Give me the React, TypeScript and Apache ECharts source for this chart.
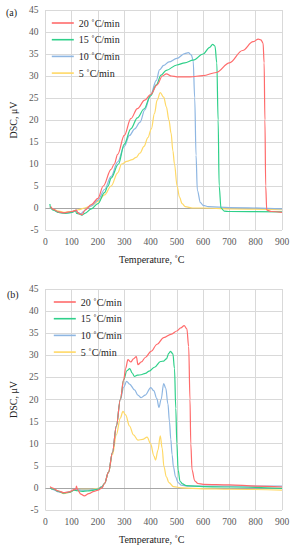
import React, { useEffect, useRef } from "react";
import * as echarts from "echarts";

const seriesNames = ["20 ˚C/min", "15 ˚C/min", "10 ˚C/min", "5 ˚C/min"];
const colors = ["#ff6b6b", "#2fd08a", "#8eb6e2", "#ffd966"];
const xTicks = { min: 0, max: 900, interval: 100 };
const yTicks = { min: -5, max: 45, interval: 5 };

// Chart (a)
const a20T = [20, 30, 50, 70, 100, 118, 122, 132, 140, 150, 175, 200, 220, 250, 262, 275, 300, 325, 350, 378, 400, 425, 445, 460, 480, 500, 550, 600, 650, 700, 750, 790, 810, 820, 828, 832, 835, 838, 842, 860, 900];
const a20V = [0.3, -0.3, -0.9, -1.1, -0.8, -0.5, -1.0, -1.4, -1.5, -0.5, 0.8, 2.2, 5, 8.8, 10, 12.2, 16.5, 20.3, 22.6, 24.5, 25.8, 28, 30, 30.5, 30, 29.8, 29.8, 30.1, 30.8, 33, 35.8, 37.8, 38.4, 38.2, 37.5, 33, 20, 5, -0.5, -0.8, -1.0];
const a15T = [17, 20, 30, 50, 75, 100, 115, 118, 130, 140, 150, 175, 200, 225, 238, 250, 278, 300, 325, 350, 375, 400, 422, 440, 460, 500, 530, 562, 600, 625, 636, 645, 652, 657, 661, 668, 680, 700, 900];
const a15V = [0.9, 0, -0.5, -1.0, -1.2, -1.0, -0.6, -1.2, -1.4, -1.6, -1.2, -0.2, 1.0, 3.5, 5, 6.8, 10, 14.5, 18, 20.5, 22.5, 25.5, 28, 30.2, 31.3, 32.5, 33, 33.6, 35, 36.5, 37.2, 36.8, 33, 20, 5, 0, -0.7, -0.8, -0.9];
const a10T = [17, 30, 50, 75, 100, 118, 122, 135, 145, 160, 175, 200, 225, 250, 275, 300, 320, 340, 360, 378, 400, 422, 434, 450, 470, 500, 530, 544, 555, 562, 568, 573, 578, 590, 600, 620, 700, 900];
const a10V = [0.3, -0.4, -1.0, -1.2, -1.0, -0.5, -1.0, -1.3, -0.8, 0, 0.5, 1.8, 4.2, 7.2, 10.5, 14, 16.5, 18, 19.5, 22.3, 25.7, 29, 31.4, 32.4, 33.2, 34, 35.1, 35.3, 34.8, 33.5, 25, 12, 4, 1.2, 0.6, 0.3, 0.1, -0.2];
const a5T = [17, 30, 50, 75, 100, 125, 150, 175, 200, 225, 250, 275, 290, 310, 330, 345, 360, 375, 390, 403, 415, 425, 437, 450, 460, 470, 478, 485, 491, 501, 510, 520, 532, 560, 600, 700, 900];
const a5V = [0.2, -0.3, -0.7, -1.0, -0.8, -0.4, 0, 0.5, 1.5, 3, 5, 8, 10, 10.6, 11, 11.5, 12.5, 14, 16, 18, 21.5, 24.5, 26.2, 25.2, 23, 20, 17, 13, 10, 5, 2.5, 1, 0.3, 0, 0, -0.2, -0.4];

// Chart (b)
const b20T = [18, 25, 50, 70, 90, 110, 116, 118, 122, 135, 148, 165, 185, 200, 215, 225, 240, 255, 270, 285, 298, 305, 314, 325, 335, 346, 352, 365, 380, 402, 425, 450, 480, 500, 515, 528, 538, 545, 550, 553, 558, 568, 580, 600, 700, 800, 900];
const b20V = [0.3, 0, -0.7, -1.1, -0.9, -0.4, -0.2, 0.4, -0.4, -1.4, -1.8, -1.3, -0.8, -0.5, 0, 1, 3.5, 8, 14, 20, 24.5, 27, 29, 28.5, 29.2, 29.7, 27.9, 28.5, 29.5, 30.9, 32.5, 34, 34.8, 35.5, 36.2, 36.7, 36, 32, 20, 10, 4, 1.6, 1, 0.8, 0.7, 0.4, 0.2];
const b15T = [18, 30, 50, 70, 90, 110, 120, 140, 160, 185, 200, 215, 225, 240, 255, 270, 285, 298, 310, 321, 330, 339, 350, 364, 380, 395, 415, 438, 450, 460, 470, 476, 485, 491, 496, 500, 505, 512, 522, 535, 600, 700, 900];
const b15V = [0, -0.3, -0.8, -1.2, -1.0, -0.5, -0.6, -0.8, -0.7, -0.5, -0.3, 0.2, 1, 3.5, 8, 14, 20, 24.5, 26.5, 27, 26, 25.2, 25.5, 25.6, 25.9, 26.4, 27.3, 28.6, 28.7, 29.2, 30.5, 30.9, 30.3, 27, 18, 10, 4, 1.5, 0.9, 0.5, 0.3, 0.2, -0.1];
const b10T = [18, 30, 50, 70, 90, 110, 120, 140, 160, 185, 200, 215, 225, 240, 255, 270, 285, 298, 309, 320, 339, 352, 364, 380, 401, 412, 424, 432, 440, 450, 458, 466, 472, 477, 482, 487, 495, 505, 517, 540, 600, 700, 900];
const b10V = [0, -0.4, -0.9, -1.1, -0.9, -0.5, -0.4, -0.5, -0.5, -0.4, -0.2, 0.3, 1, 3.5, 8, 14, 20, 22.8, 24.1, 23.5, 22.2, 21, 20.4, 21, 22.7, 22, 20.2, 18.2, 20, 23.6, 22.5, 19, 15, 11, 7.5, 4.8, 2.5, 1.2, 0.6, 0.4, 0.4, 0.4, 0.4];
const b5T = [18, 30, 50, 70, 90, 110, 120, 150, 180, 200, 215, 225, 240, 255, 270, 285, 295, 305, 320, 335, 352, 370, 387, 400, 413, 419, 428, 437, 444, 451, 460, 470, 487, 520, 600, 700, 900];
const b5V = [0, -0.3, -0.8, -1.3, -1.0, -0.5, -0.3, -0.3, -0.3, -0.1, 0.3, 1, 3.5, 7.5, 12, 15.8, 17.3, 16.5, 14, 12, 10.8, 11, 11.5, 10, 7.2, 6.3, 8.5, 11.8, 9, 4.8, 2.5, 1.2, 0.3, 0, -0.2, -0.3, -0.5];

const zip = (t: number[], v: number[]) => t.map((x, i) => [x, v[i]]);

const FONT = "Liberation Serif";

export default function App() {
  const ref = useRef<HTMLDivElement>(null);
  useEffect(() => {
    if (!ref.current) return;
    const chart = echarts.init(ref.current, undefined, { renderer: "svg" });
    const grids = [
      { left: 37, top: 10, width: 245, height: 220 },
      { left: 38, top: 289, width: 244, height: 221 },
    ];
    const mkX = (gi: number) => ({
      type: "value",
      gridIndex: gi,
      ...xTicks,
      name: "Temperature, ˚C",
      nameLocation: "middle",
      nameGap: 24,
      nameTextStyle: { fontFamily: FONT, fontSize: 10, color: "#222", padding: [0, 24, 0, 0] },
      axisLine: { show: false, onZero: false },
      axisTick: { show: false },
      axisLabel: { fontFamily: FONT, fontSize: 9.5, color: "#595959", margin: 7 },
      splitLine: { show: true, lineStyle: { color: "#d9d9d9", width: 1 } },
    });
    const mkY = (gi: number) => ({
      type: "value",
      gridIndex: gi,
      ...yTicks,
      name: "DSC, μV",
      nameLocation: "middle",
      nameGap: 22,
      nameTextStyle: { fontFamily: FONT, fontSize: 10, color: "#222" },
      axisLine: { show: false },
      axisTick: { show: false },
      axisLabel: { fontFamily: FONT, fontSize: 9.5, color: "#595959", margin: 7 },
      splitLine: { show: true, lineStyle: { color: "#d9d9d9", width: 1 } },
    });
    const dataA = [zip(a20T, a20V), zip(a15T, a15V), zip(a10T, a10V), zip(a5T, a5V)];
    const dataB = [zip(b20T, b20V), zip(b15T, b15V), zip(b10T, b10V), zip(b5T, b5V)];
    const series: any[] = [];
    [dataA, dataB].forEach((set, gi) => {
      set.forEach((d, i) => {
        series.push({
          type: "line",
          name: seriesNames[i],
          xAxisIndex: gi,
          yAxisIndex: gi,
          data: d,
          symbol: "none",
          smooth: 0.35,
          smoothMonotone: "x",
          color: colors[i],
          lineStyle: { width: 1.2, color: colors[i] },
          z: 10 - i,
          markLine:
            i === 0
              ? {
                  silent: true,
                  symbol: "none",
                  label: { show: false },
                  lineStyle: { color: "#a6a6a6", width: 1, type: "solid" },
                  data: [{ yAxis: 0 }],
                  z: 1,
                }
              : undefined,
        });
      });
    });
    const mkLegend = (left: number, top: number) => ({
      orient: "vertical",
      left,
      top,
      data: seriesNames,
      itemWidth: 22,
      itemHeight: 10,
      itemGap: 6.7,
      itemStyle: { opacity: 0 },
      lineStyle: { width: 1.6 },
      textStyle: { fontFamily: FONT, fontSize: 10, color: "#222" },
      selectedMode: false,
    });
    chart.setOption({
      animation: false,
      backgroundColor: "#ffffff",
      grid: grids,
      xAxis: [mkX(0), mkX(1)],
      yAxis: [mkY(0), mkY(1)],
      legend: [mkLegend(46, 13), mkLegend(48, 292)],
      graphic: [
        { type: "text", left: 6, top: 7, style: { text: "(a)", fontFamily: FONT, fontSize: 10, fill: "#222" } },
        { type: "text", left: 7, top: 289, style: { text: "(b)", fontFamily: FONT, fontSize: 10, fill: "#222" } },
      ],
      series,
    });
    return () => chart.dispose();
  }, []);
  return (
    <div
      ref={ref}
      style={{ position: "fixed", left: 0, top: 0, width: 293, height: 550, background: "#fff" }}
    />
  );
}
